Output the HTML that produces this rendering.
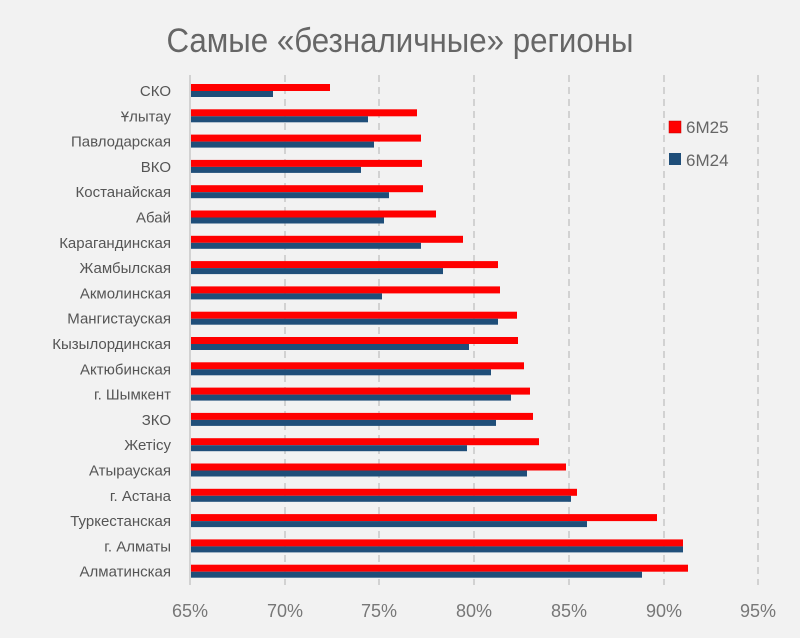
<!DOCTYPE html>
<html><head><meta charset="utf-8"><style>
body{margin:0;background:#f2f2f2;}
text{font-family:"Liberation Sans Narrow","Liberation Sans",sans-serif;}
</style></head><body>
<svg width="800" height="633" viewBox="0 0 800 633" xmlns="http://www.w3.org/2000/svg">
<rect width="800" height="633" fill="#f2f2f2"/>
<text x="400" y="52" text-anchor="middle" font-size="34" fill="#666" transform="translate(400,0) scale(0.92,1) translate(-400,0)">Самые «безналичные» регионы</text>
<g stroke="#c8c8c8" stroke-width="1.5" stroke-dasharray="7,5">
<line x1="285" y1="75" x2="285" y2="585"/>
<line x1="379" y1="75" x2="379" y2="585"/>
<line x1="474" y1="75" x2="474" y2="585"/>
<line x1="569" y1="75" x2="569" y2="585"/>
<line x1="664" y1="75" x2="664" y2="585"/>
<line x1="758" y1="75" x2="758" y2="585"/>
</g>
<line x1="190" y1="75" x2="190" y2="585" stroke="#c8c8c8" stroke-width="1.5"/>
<g id="bars"></g>
<g font-size="15" fill="#555" text-anchor="end" id="labels"></g>
<g font-size="18" fill="#777" text-anchor="middle">
<text x="190" y="617">65%</text><text x="285" y="617">70%</text><text x="379" y="617">75%</text>
<text x="474" y="617">80%</text><text x="569" y="617">85%</text><text x="664" y="617">90%</text><text x="758" y="617">95%</text>
</g>
<rect x="669" y="121" width="12" height="12" fill="#f00" stroke="#b00" stroke-width="0.5"/>
<text x="686" y="133" font-size="17" fill="#666">6M25</text>
<rect x="669" y="153" width="12" height="12" fill="#1f4e79"/>
<text x="686" y="166" font-size="17" fill="#666">6M24</text>
<script>
var d=[["СКО",330,273],["Ұлытау",417,368],["Павлодарская",421,374],["ВКО",422,361],["Костанайская",423,389],["Абай",436,384],["Карагандинская",463,421],["Жамбылская",498,443],["Акмолинская",500,382],["Мангистауская",517,498],["Кызылординская",518,469],["Актюбинская",524,491],["г. Шымкент",530,511],["ЗКО",533,496],["Жетісу",539,467],["Атырауская",566,527],["г. Астана",577,571],["Туркестанская",657,587],["г. Алматы",683,683],["Алматинская",688,642]];
var ns="http://www.w3.org/2000/svg",b=document.getElementById("bars"),l=document.getElementById("labels");
d.forEach(function(r,i){var c=91+i*25.3;
var a=document.createElementNS(ns,"rect");a.setAttribute("x",191);a.setAttribute("y",c-7);a.setAttribute("width",r[1]-191);a.setAttribute("height",7);a.setAttribute("fill","#f00");b.appendChild(a);
var e=document.createElementNS(ns,"rect");e.setAttribute("x",191);e.setAttribute("y",c);e.setAttribute("width",r[2]-191);e.setAttribute("height",6);e.setAttribute("fill","#1f4e79");b.appendChild(e);
var t=document.createElementNS(ns,"text");t.setAttribute("x",171);t.setAttribute("y",c+5);t.textContent=r[0];l.appendChild(t);});
</script>
</svg>
</body></html>
